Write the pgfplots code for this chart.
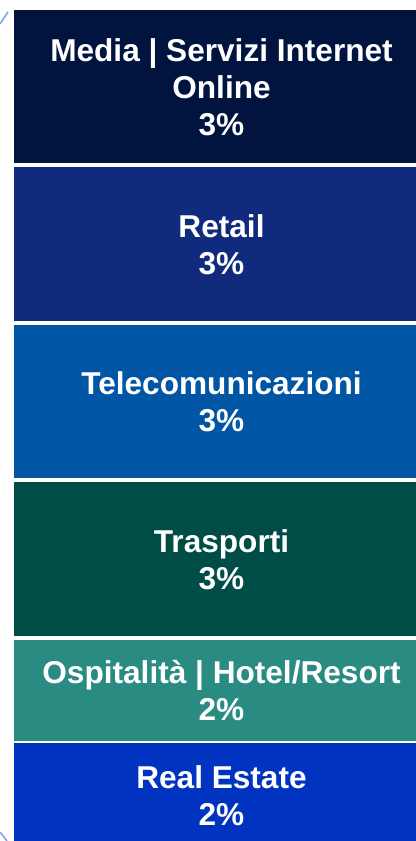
\documentclass[border=0pt]{standalone}
\usepackage{pgfplots}
\pgfplotsset{compat=1.18}
\usepackage{fontspec}
\setmainfont{Liberation Sans}
\definecolor{cMedia}{HTML}{00143F}
\definecolor{cRetail}{HTML}{102B7D}
\definecolor{cTele}{HTML}{0056A5}
\definecolor{cTrasp}{HTML}{004D48}
\definecolor{cOspit}{HTML}{2A8B83}
\definecolor{cReal}{HTML}{0033BF}
\definecolor{cDeco}{HTML}{7FA6EC}
\tikzset{lbl/.style={font=\fontsize{15.8pt}{18.5pt}\selectfont\bfseries, text=white, align=center}}
\begin{document}
\begin{tikzpicture}
\useasboundingbox (-6pt,1.5pt) rectangle (202pt,422pt);
\begin{axis}[
  name=ax,
  at={(0pt,-28.25pt)}, anchor=south west,
  scale only axis,
  width=202pt, height=446.25pt,
  xmin=0, xmax=1, ymin=-1, ymax=16,
  axis lines=none,
  ticks=none,
  ybar stacked,
  bar width=1.037,
  clip=true,
  every axis plot/.append style={draw=white, line width=2pt},
]
\addplot[fill=cReal, draw=cReal, line width=0.1pt, bar width=1.0271] coordinates {(0.5186,2)};
\addplot[fill=cOspit] coordinates {(0.5186,2)};
\addplot[fill=cTrasp] coordinates {(0.5186,3)};
\addplot[fill=cTele] coordinates {(0.5186,3)};
\addplot[fill=cRetail] coordinates {(0.5186,3)};
\addplot[fill=cMedia] coordinates {(0.5186,3)};
\coordinate (l1) at (axis cs:0.5186,1);
\coordinate (l2) at (axis cs:0.5186,3);
\coordinate (l3) at (axis cs:0.5186,5.5);
\coordinate (l4) at (axis cs:0.5186,8.5);
\coordinate (l5) at (axis cs:0.5186,11.5);
\coordinate (l6) at (axis cs:0.5186,14.5);
\end{axis}
\node[lbl] at (l1) {Real Estate\\2\%};
\node[lbl] at (l2) {Ospitalità | Hotel/Resort\\2\%};
\node[lbl] at (l3) {Trasporti\\3\%};
\node[lbl] at (l4) {Telecomunicazioni\\3\%};
\node[lbl] at (l5) {Retail\\3\%};
\node[lbl] at (l6) {Media | Servizi Internet\\Online\\3\%};
\draw[cDeco, line width=0.8pt] (-6pt,410pt) -- (-2pt,416pt);
\draw[cDeco, line width=0.8pt] (-6pt,6pt) -- (-2.5pt,1.5pt);
\end{tikzpicture}
\end{document}
